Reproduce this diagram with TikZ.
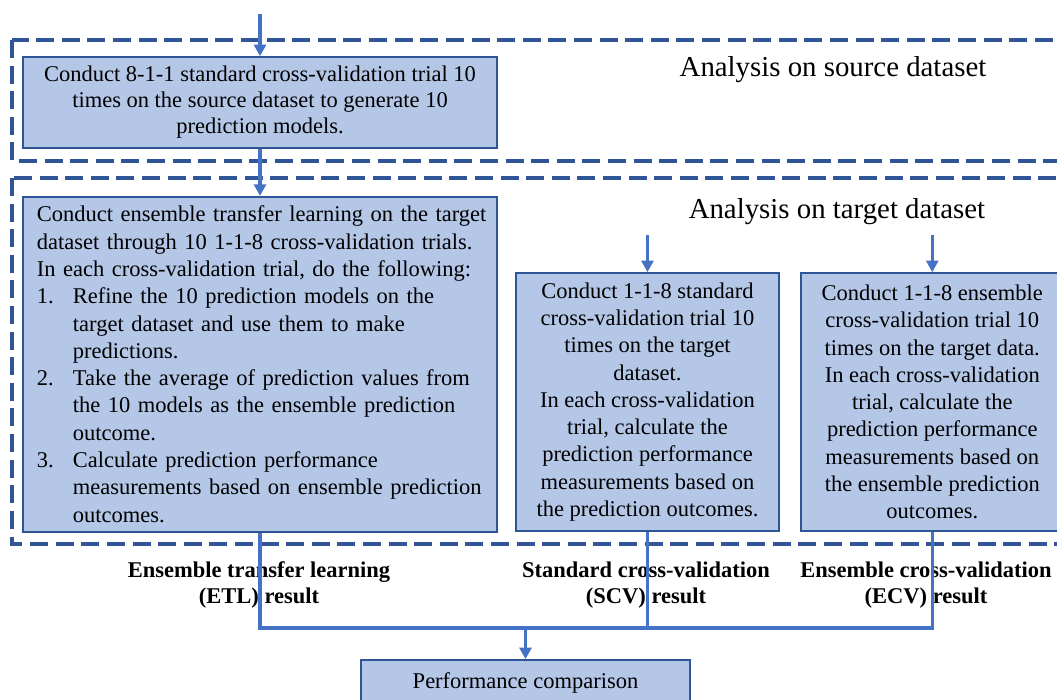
\documentclass[tikz,border=0pt]{standalone}
\usepackage{fontspec}
\setmainfont{Liberation Serif}
\usepackage{xcolor}
\usetikzlibrary{arrows.meta, positioning, calc}
\definecolor{boxfill}{HTML}{B4C7E7}
\definecolor{boxline}{HTML}{2F5597}
\definecolor{flowblue}{HTML}{4472C4}
\tikzstyle{block} = [draw=boxline, line width=1.2pt, fill=boxfill, rectangle, inner sep=0pt, align=center, font=\fontsize{16}{19.4}\selectfont]
\tikzstyle{region} = [draw=boxline, line width=2.4pt, dash pattern=on 0.45cm off 0.19cm]
\tikzstyle{arrow} = [draw=flowblue, line width=2.4pt, -{Triangle[length=0.29cm, width=0.3cm]}]
\tikzstyle{line} = [draw=flowblue, line width=2.4pt]
\tikzstyle{result} = [align=center, font=\bfseries\fontsize{16}{18.5}\selectfont]
\tikzstyle{title} = [font=\fontsize{20.5}{24}\selectfont]
\newcommand{\etlitem}[1]{\par\hangindent=0.9cm\hangafter=1\noindent\makebox[0.9cm][l]{#1}}

\begin{document}
\begin{tikzpicture}[x=0.025cm, y=-0.025cm]
    \clip (0,0) rectangle (1057,699);
    % dashed analysis regions
    \draw [region] (12,40) rectangle (1090,161);
    \draw [region] (12,178) rectangle (1090,544);
    \node (srctitle) [title] at (833,70) {Analysis on source dataset};
    \node (tgttitle) [title] at (837,212) {Analysis on target dataset};

    \node (src) [block, minimum width=11.85cm, minimum height=2.275cm, font=\fontsize{16}{18.5}\selectfont] at (260,102.5) {Conduct 8-1-1 standard cross-validation trial 10\\times on the source dataset to generate 10\\prediction models.};
    \node (etl) [block, below=1.175cm of src, minimum height=8.375cm, text width=11.85cm, align=left] {\leftskip=0.35cm
        Conduct ensemble transfer learning on the target\newline dataset through 10 1-1-8 cross-validation trials.\newline In each cross-validation trial, do the following:
        \etlitem{1.}Refine the 10 prediction models on the\newline target dataset and use them to make\newline predictions.
        \etlitem{2.}Take the average of prediction values from\newline the 10 models as the ensemble prediction\newline outcome.
        \etlitem{3.}Calculate prediction performance\newline measurements based on ensemble prediction\newline outcomes.\par};
    \node (scv) [block, minimum width=6.575cm, minimum height=6.45cm] at (647.5,402) {Conduct 1-1-8 standard\\cross-validation trial 10\\times on the target\\dataset.\\In each cross-validation\\trial, calculate the\\prediction performance\\measurements based on\\the prediction outcomes.};
    \node (ecv) [block, right=0.5cm of scv, minimum width=6.575cm, minimum height=6.45cm] {Conduct 1-1-8 ensemble\\cross-validation trial 10\\times on the target data.\\In each cross-validation\\trial, calculate the\\prediction performance\\measurements based on\\the ensemble prediction\\outcomes.};
    \node (perf) [block, minimum width=8.225cm, minimum height=1.15cm] at (525.5,683) {Performance comparison};

    \node (etlres) [result] at (259,585) {Ensemble transfer learning\\(ETL) result};
    \node (scvres) [result] at (646,585) {Standard cross-validation\\(SCV) result};
    \node (ecvres) [result] at (926,585) {Ensemble cross-validation\\(ECV) result};

    \coordinate (start) at (260,14);
    \coordinate [above=0.925cm of scv.north] (scvin);
    \coordinate [above=0.925cm of ecv.north] (ecvin);
    \coordinate (merge) at (525.5,628);

    \draw [arrow] (start) -- (src);
    \draw [arrow] (src) -- (etl);
    \draw [arrow] (scvin) -- (scv);
    \draw [arrow] (ecvin) -- (ecv);
    \draw [line] (etl.south) |- (merge) -| (ecv.south);
    \draw [line] (scv.south) -- (scv.south |- merge);
    \draw [arrow] (merge) -- (perf);
\end{tikzpicture}
\end{document}
